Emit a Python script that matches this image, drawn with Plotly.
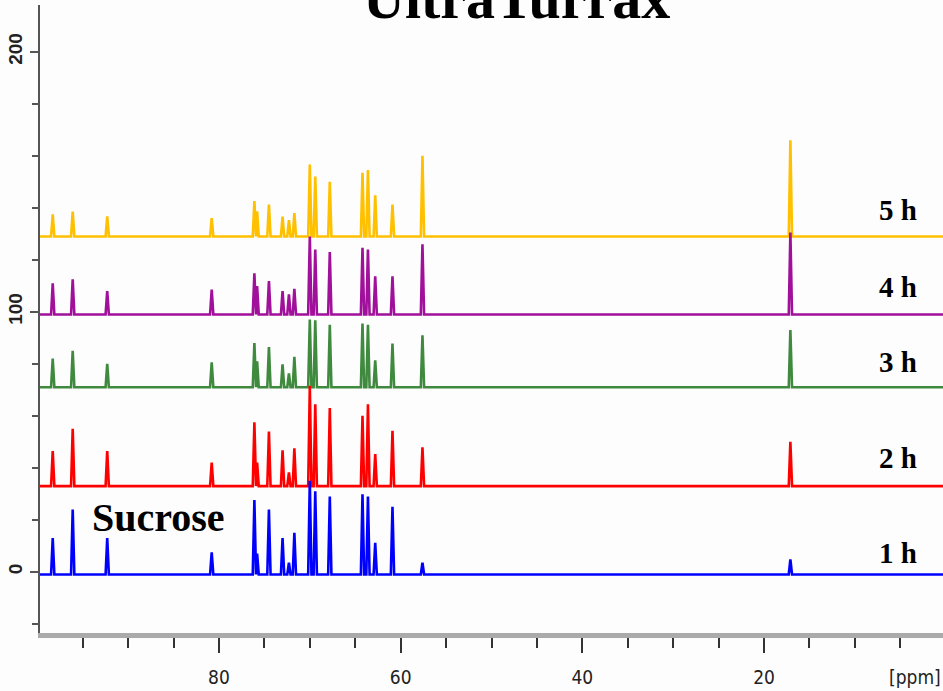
import plotly.graph_objects as go

# 13C chemical shifts of the resolved signals (ppm)
peak_ppm = [98.3, 96.1, 92.3, 80.8, 76.1, 75.8, 74.5, 73.0, 72.3, 71.7,
            70.0, 69.4, 67.8, 64.2, 63.6, 62.8, 60.9, 57.6, 17.1]

# signal intensities above each spectrum's baseline
height_1h = [14, 25, 14, 8.5, 28.6, 8, 25, 14, 4.5, 16, 36, 32, 30, 30.8, 30, 12.2, 26, 4.5, 5.8]
height_2h = [13.5, 22, 13.5, 9, 24.5, 9, 21, 13.8, 5.3, 14.5, 38.6, 31.5, 30, 27, 31.5, 12.3, 21.3, 14.9, 17]
height_3h = [11, 14, 9, 9.6, 17, 10, 15.5, 8.8, 5.3, 11.7, 26, 25.8, 24, 24.5, 24, 10.4, 16.8, 20, 22]
height_4h = [12, 13.5, 9, 9.6, 15.8, 10.9, 12.8, 9, 7.7, 9.9, 30, 25, 24, 25.6, 25, 14.7, 14.7, 27, 31.5]
height_5h = [8.5, 9.6, 7.7, 7, 13.6, 9.7, 12.3, 7.6, 6.3, 9, 27.7, 23, 21, 24.5, 25.5, 15.8, 12.3, 31, 37]

# vertical stacking offset of each spectrum
series_names = ["5 h", "4 h", "3 h", "2 h", "1 h"]
series_offsets = [129, 99, 71, 33, -1]
series_heights = [height_5h, height_4h, height_3h, height_2h, height_1h]
series_colors = ["#FFC000", "#A0109A", "#3F8A3F", "#FF0000", "#0000FF"]

x_tick_vals = [80, 60, 40, 20]
y_tick_vals = [0, 100, 200]

SPAN_HI, SPAN_LO = 101.0, -1.0
HALF_WIDTH = 0.18


def stick_spectrum(base, heights):
    pts = [(SPAN_HI, base), (SPAN_LO, base)]
    for p, h in zip(peak_ppm, heights):
        pts += [(p + HALF_WIDTH, base), (p, base + h), (p - HALF_WIDTH, base)]
    pts.sort(key=lambda t: -t[0])
    return [t[0] for t in pts], [t[1] for t in pts]


fig = go.Figure()
for name, off, hts, col in zip(series_names, series_offsets, series_heights, series_colors):
    xs, ys = stick_spectrum(off, hts)
    fig.add_trace(go.Scatter(x=xs, y=ys, mode="lines", name=name,
                             line=dict(color=col, width=2.6), showlegend=False))

label_font = dict(family="Liberation Serif, Times New Roman, serif", size=29, color="black")
label_y = [139, 109.6, 80.8, 43.8, 7.3]
for name, ly in zip(series_names, label_y):
    fig.add_annotation(x=5.25, y=ly, xref="x", yref="y", text=f"<b>{name}</b>",
                       showarrow=False, font=label_font, xanchor="center", yanchor="middle")

fig.add_annotation(x=86.7, y=20.8, xref="x", yref="y", text="<b>Sucrose</b>",
                   showarrow=False, xanchor="center", yanchor="middle",
                   font=dict(family="Liberation Serif, Times New Roman, serif", size=40, color="black"))

fig.add_annotation(x=0.528, y=0.955, xref="paper", yref="paper", text="<b>UltraTurrax</b>",
                   showarrow=False, xanchor="center", yanchor="bottom",
                   font=dict(family="Liberation Serif, Times New Roman, serif", size=58, color="black"))

tick_font = dict(family="DejaVu Sans Condensed, Liberation Sans Narrow, Liberation Sans, sans-serif",
                 size=19, color="#222222")
fig.add_annotation(x=1.0, y=-0.07, xref="paper", yref="paper", text="[ppm]",
                   showarrow=False, xanchor="right", yanchor="middle", font=tick_font)

fig.update_xaxes(range=[99.7, 0.3], tickvals=x_tick_vals, ticks="outside", ticklen=15,
                 tickwidth=1.5, tickcolor="#333333", showline=True, linecolor="#aaaaaa",
                 linewidth=5, showgrid=False, zeroline=False, tickfont=tick_font,
                 ticklabelstandoff=8,
                 minor=dict(dtick=5, ticks="outside", ticklen=10, tickwidth=1.5,
                            tickcolor="#333333", showgrid=False))
fig.update_yaxes(range=[-23.5, 218], tickvals=y_tick_vals, ticks="outside", ticklen=8,
                 tickwidth=2, tickcolor="#555555", showline=True, linecolor="#555555",
                 linewidth=2, showgrid=False, zeroline=False, tickangle=-90,
                 tickfont=dict(family="Liberation Sans, Arial, sans-serif", size=19,
                               color="#222222", weight="bold"),
                 minor=dict(dtick=20, ticks="outside", ticklen=6, tickwidth=1.5,
                            tickcolor="#555555", showgrid=False))

fig.update_layout(width=943, height=691, margin=dict(l=40, r=0, t=5, b=58),
                  plot_bgcolor="#fdfdfd", paper_bgcolor="#fdfdfd")

fig.write_html("out.html")
